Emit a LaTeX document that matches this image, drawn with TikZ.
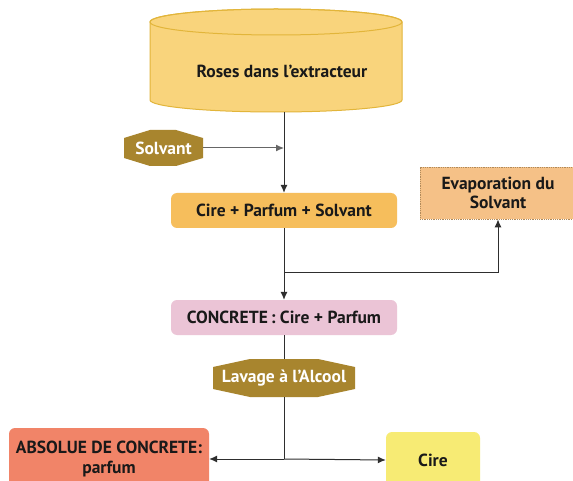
\documentclass[tikz,border=0pt]{standalone}
\usepackage{fontspec}
\setmainfont{PT Sans}
\usetikzlibrary{arrows.meta,calc}
\definecolor{cylfill}{HTML}{F9D47C}
\definecolor{cylline}{HTML}{E2B53A}
\definecolor{gold}{HTML}{A8852E}
\definecolor{orange1}{HTML}{F6BE5C}
\definecolor{evapfill}{HTML}{F5C187}
\definecolor{evapline}{HTML}{B08A5A}
\definecolor{pink1}{HTML}{EBC4D6}
\definecolor{salmon}{HTML}{F18468}
\definecolor{yellow1}{HTML}{F7EB74}
\definecolor{linec}{HTML}{2E2E2E}
\definecolor{greyline}{HTML}{666666}
\tikzset{
  x=1pt,y=-1pt,
  txt/.style={font=\bfseries\fontsize{17.5}{19}\selectfont, text=black!90, align=center},
  rbox/.style={txt, rounded corners=6pt, inner sep=0pt},
  octo/.style={txt, text=white, inner sep=0pt},
  conn/.style={draw=linec, line width=1pt},
  arr/.style={conn, -{Latex[length=8pt,width=7pt]}},
}
\begin{document}
\begin{tikzpicture}
\clip (0,0) rectangle (573,481);
\fill[white] (0,0) rectangle (573,481);
% cylinder
\filldraw[fill=cylfill, draw=cylline, line width=1pt]
  (150,22) -- (150,100) arc[start angle=180,end angle=0,x radius=126,y radius=12]
  -- (402,22) arc[start angle=0,end angle=-180,x radius=126,y radius=13] -- cycle;
\draw[cylline, line width=1pt] (276,22) ellipse[x radius=126, y radius=13];
\node[txt] (cyl) at (282,71) {Roses dans l’extracteur};
\coordinate (cylb) at (284,112);
% Solvant octagon
\fill[gold] (124,138) -- (150,130) -- (176,130) -- (203,138) -- (203,158) -- (176,166) -- (150,166) -- (124,158) -- cycle;
\node[octo, minimum width=79pt, minimum height=36pt] (solv) at (163.5,148) {Solvant};
% boxes
\node[rbox, fill=orange1, minimum width=226pt, minimum height=35pt] (cps) at (284,210.5) {Cire + Parfum + Solvant};
\node[txt, fill=evapfill, draw=evapline, densely dotted, line width=0.8pt, minimum width=156pt, minimum height=52pt, inner sep=0pt] (evap) at (498,193) {Evaporation du\\Solvant};
\node[rbox, fill=pink1, minimum width=226pt, minimum height=35pt] (conc) at (284,317.5) {CONCRETE\,: Cire + Parfum};
% Lavage octagon
\fill[gold] (213,367) -- (250,359) -- (318,359) -- (355,367) -- (355,389) -- (318,397) -- (250,397) -- (213,389) -- cycle;
\node[octo, minimum width=142pt, minimum height=38pt] (lav) at (284,378) {Lavage à l’Alcool};
\node[rbox, fill=salmon, minimum width=200pt, minimum height=62pt, font=\bfseries\fontsize{17.5}{20}\selectfont] (abs) at (109,459) {ABSOLUE DE CONCRETE:\\parfum};
\node[rbox, fill=yellow1, minimum width=94pt, minimum height=56pt] (cire) at (433,460) {Cire};
% connectors
\coordinate (js) at (284,148);
\coordinate (j1) at (284,272);
\coordinate (j2) at (284,459);
\draw[arr] (cylb) -- (cps.north);
\draw[draw=greyline, line width=1pt, -{Latex[length=8pt,width=7pt]}] (solv.east) -- (js);
\draw[conn] (cps.south) -- (j1);
\draw[arr] (j1) -| (evap.south);
\draw[arr] (j1) -- (conc.north);
\draw[conn] (conc.south) -- (lav.north);
\draw[conn] (lav.south) -- (j2);
\draw[arr] (j2) -- (abs.east);
\draw[arr] (j2) -- (cire.west);
\end{tikzpicture}
\end{document}
